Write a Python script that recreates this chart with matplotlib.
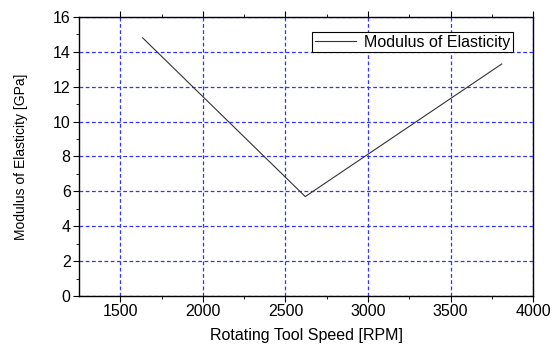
import numpy as np
import matplotlib.pyplot as plt

# values
speed = [1635, 2620, 3810]
modulus = [14.8, 5.7, 13.3]

plt.rcParams['font.family'] = ['Liberation Sans', 'DejaVu Sans']

fig = plt.figure(figsize=(5.53, 3.45), dpi=100)
ax = fig.add_axes([0.143, 0.142, 0.821, 0.809])

ax.plot(speed, modulus, '-', color='#333333', linewidth=0.8, label='Modulus of Elasticity')

ax.set_xlim(1250, 4000)
ax.set_ylim(0, 16)
ax.set_xticks([1500, 2000, 2500, 3000, 3500, 4000])
ax.set_xticks([1750, 2250, 2750, 3250, 3750], minor=True)
ax.set_yticks(np.arange(0, 17, 2))
ax.set_yticks(np.arange(1, 16, 2), minor=True)

ax.grid(True, which='major', color='#3333ff', linestyle=(0, (3, 2)), linewidth=0.9)
ax.tick_params(which='both', direction='out', top=True, right=False, labelsize=11.5, pad=2)
ax.tick_params(which='major', length=4)
ax.tick_params(which='minor', length=2.5)
for s in ax.spines.values():
    s.set_linewidth(1.0)

ax.set_xlabel('Rotating Tool Speed [RPM]', fontsize=11.5, labelpad=6)
ax.set_ylabel('Modulus of Elasticity [GPa]', fontsize=10, labelpad=18)

leg = ax.legend(loc='upper right', bbox_to_anchor=(0.955, 0.945), fancybox=False,
                edgecolor='black', framealpha=1, fontsize=11.5, handlelength=2.6,
                handletextpad=0.5, borderpad=0.15, borderaxespad=0)
leg.get_frame().set_linewidth(0.8)

fig.savefig('out.png', dpi=100)
